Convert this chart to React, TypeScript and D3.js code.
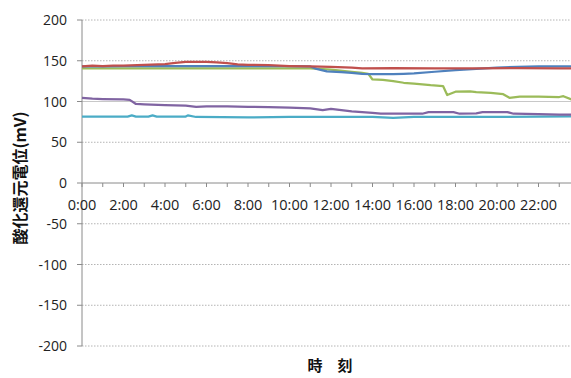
import React from "react";
import * as d3 from "d3";

const W = 571;
const H = 378;

const yTicks = [200, 150, 100, 50, 0, -50, -100, -150, -200];
const xLabelHours = [0, 2, 4, 6, 8, 10, 12, 14, 16, 18, 20, 22];
const xTickHours = d3.range(0, 25, 1);

const redT = [0, 0.5, 1, 1.5, 2, 3, 4, 4.5, 5, 6, 6.5, 7, 7.5, 8, 9, 10, 11, 12, 13, 13.5, 15, 17, 19, 21, 23, 24];
const redV = [143, 144, 143.5, 144, 144, 145, 146, 147.5, 148.5, 148.5, 148, 147, 145.5, 145, 144.5, 143.5, 143, 142.5, 141.5, 140.5, 141, 140.5, 140.5, 141, 140.5, 140.5];

const blueT = [0, 1, 2, 4, 6, 8, 10, 11, 11.3, 11.8, 12.5, 13, 13.5, 14, 15, 15.5, 16, 17, 18, 19, 20, 21, 22, 23, 24];
const blueV = [143, 143, 143.5, 143.5, 143.5, 143.5, 143.5, 143, 140, 137, 136, 135, 134, 133.5, 133.5, 134, 134.5, 136.5, 138.5, 140, 141.5, 142.5, 143, 143, 143];

const greenT = [0, 2, 4, 6, 8, 10, 11, 12, 13, 13.5, 13.8, 14, 14.5, 15, 15.5, 16, 16.8, 17.4, 17.6, 18, 18.7, 19, 19.7, 20.3, 20.6, 21.1, 22, 23, 23.2, 23.6, 24];
const greenV = [140.5, 140.5, 140.5, 140.5, 140.5, 140.5, 140.5, 139, 136.5, 135, 134, 127, 126.5, 125, 123, 122, 120, 119, 108, 112, 112.5, 111.5, 110.5, 109, 104.5, 106, 106, 105.5, 106.5, 102.5, 102];

const purpleT = [0, 0.5, 1, 2, 2.3, 2.6, 3, 4, 5, 5.5, 6, 7, 8, 9, 10, 11, 11.6, 12, 13, 14, 14.4, 16.4, 16.7, 17.9, 18.2, 19, 19.3, 20.5, 20.8, 22, 23, 24];
const purpleV = [104.5, 103.5, 103, 102.5, 102, 97, 96.5, 95.5, 95, 93.5, 94, 94, 93.5, 93, 92.5, 91.5, 89.5, 91, 88, 86, 85, 85, 87, 87, 85, 85.5, 87, 87, 85, 84.5, 84, 84];

const cyanT = [0, 1, 2.2, 2.4, 2.6, 3.2, 3.4, 3.6, 5, 5.1, 5.5, 8, 10, 12, 14, 15, 16, 20, 22, 24];
const cyanV = [81.5, 81.5, 81.5, 83, 81.5, 81.5, 83, 81.5, 81.5, 83, 81, 80.5, 81, 81, 81, 80, 81, 81, 81.5, 82];

const seriesList = [
  { name: "cyan", color: "#4BACC6", t: cyanT, v: cyanV },
  { name: "purple", color: "#8064A2", t: purpleT, v: purpleV },
  { name: "green", color: "#9BBB59", t: greenT, v: greenV },
  { name: "blue", color: "#4F81BD", t: blueT, v: blueV },
  { name: "red", color: "#C0504D", t: redT, v: redV },
];

const fmtHour = (h: number) => `${h}:00`;

export default function App() {
  const x = d3.scaleLinear().domain([0, 24]).range([82, 580]);
  const y = d3.scaleLinear().domain([-200, 200]).range([346, 20]);
  const line = d3
    .line<[number, number]>()
    .x((d) => x(d[0]))
    .y((d) => y(d[1]));

  const font = "'Open Sans', 'Liberation Sans', sans-serif";
  const x0 = x(0);
  const y0 = y(0);

  return (
    <svg
      width={W}
      height={H}
      style={{ position: "absolute", left: 0, top: 0, background: "#fff" }}
    >
      {yTicks
        .filter((t) => t !== 0)
        .map((t) => (
          <line
            key={"g" + t}
            x1={x0}
            x2={W}
            y1={y(t)}
            y2={y(t)}
            stroke={t === 100 ? "#c8c8c8" : "#b4b4b4"}
            strokeWidth={1}
            strokeDasharray={t === 100 ? undefined : "1.5,1.5"}
          />
        ))}
      <line x1={x0} x2={x0} y1={y(200)} y2={y(-200)} stroke="#8a8a8a" strokeWidth={1} />
      {yTicks.map((t) => (
        <g key={"yt" + t}>
          <line x1={x0 - 5} x2={x0} y1={y(t)} y2={y(t)} stroke="#8a8a8a" />
          <text
            x={67}
            y={y(t)}
            dy="0.36em"
            textAnchor="end"
            fontFamily={font}
            fontSize={14}
            fill="#222"
          >
            {t}
          </text>
        </g>
      ))}
      <line x1={x0} x2={W} y1={y0} y2={y0} stroke="#8a8a8a" strokeWidth={1} />
      {xTickHours.map((h) => (
        <line key={"xt" + h} x1={x(h)} x2={x(h)} y1={y0} y2={y0 + 4} stroke="#8a8a8a" />
      ))}
      {xLabelHours.map((h) => (
        <text
          key={"xl" + h}
          x={x(h)}
          y={210}
          textAnchor="middle"
          fontFamily={font}
          fontSize={14.5}
          fill="#222"
        >
          {fmtHour(h)}
        </text>
      ))}
      {seriesList.map((s) => (
        <path
          key={s.name}
          d={line(s.t.map((t, i) => [t, s.v[i]] as [number, number])) || ""}
          fill="none"
          stroke={s.color}
          strokeWidth={2.25}
          strokeLinejoin="round"
        />
      ))}
      <text
        transform={`translate(26, 178) rotate(-90)`}
        textAnchor="middle"
        fontFamily="'Noto Sans CJK JP', sans-serif"
        fontWeight="bold"
        fontSize={16}
        fill="#111"
      >
        酸化還元電位(mV)
      </text>
      <text
        x={330}
        y={371}
        textAnchor="middle"
        fontFamily="'Noto Sans CJK JP', sans-serif"
        fontWeight="bold"
        fontSize={15}
        fill="#111"
      >
        時　刻
      </text>
    </svg>
  );
}
